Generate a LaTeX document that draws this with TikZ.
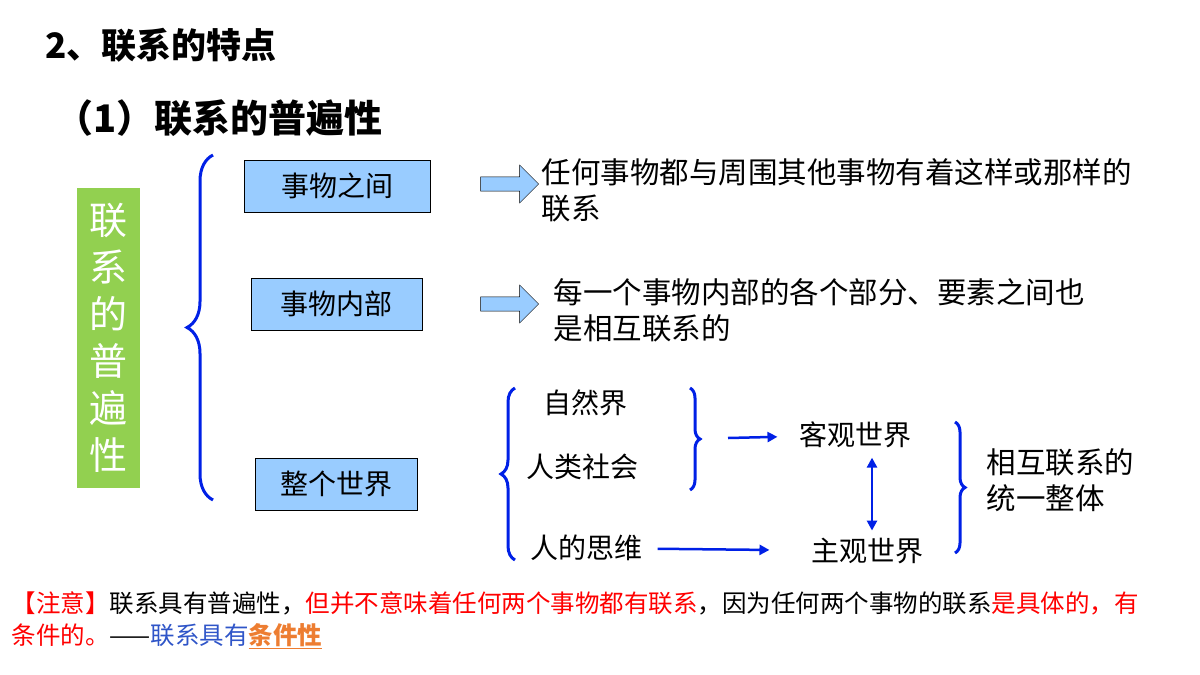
\documentclass[tikz,border=0pt]{standalone}
\usepackage{fontspec}
\setmainfont{Noto Sans CJK SC}
\usetikzlibrary{arrows.meta, positioning, calc, shapes.arrows, decorations.pathreplacing}
\definecolor{boxblue}{RGB}{153,204,255}
\definecolor{leafgreen}{RGB}{146,208,80}
\definecolor{braceblue}{RGB}{0,32,230}
\definecolor{noteorange}{RGB}{237,125,49}
\definecolor{noteblue}{RGB}{47,85,200}
\tikzset{
  topic/.style={draw, fill=boxblue, minimum height=52pt, font=\fontsize{28}{32}\selectfont},
  say/.style={anchor=west, align=left, font=\fontsize{29.5}{36}\selectfont},
  word/.style={font=\fontsize{28}{32}\selectfont},
  bigbrace/.style={decorate, decoration={brace, amplitude=#1}, draw=braceblue, line width=3pt},
  link/.style={-{Triangle[length=10pt,width=10pt]}, draw=braceblue, line width=2.5pt}
}
\begin{document}
\begin{tikzpicture}[x=1pt, y=-1pt]
\useasboundingbox (0,0) rectangle (1200,675);

% Title lines
\node (title) [anchor=west, font=\fontsize{35}{40}\selectfont\bfseries] at (42,45) {2、联系的特点};
\node (sub) [anchor=west, font=\fontsize{38}{44}\selectfont\bfseries] at (52,118) {（1）联系的普遍性};

% Green label
\node (tag) [fill=leafgreen, text=white, minimum width=63pt, minimum height=300pt, align=center,
  font=\fontsize{38}{47}\selectfont] at (108.5,338) {联\\系\\的\\普\\遍\\性};

% Main brace
\draw[bigbrace=26pt] (213,500) -- (213,155);

% Three topics
\node (between) [topic, minimum width=186pt] at (337,186) {事物之间};
\node (inside) [topic, minimum width=171pt] at (336.5,304) {事物内部};
\node (world) [topic, minimum width=162pt] at (336,484) {整个世界};

% Block arrows and statements
\node (arr1) [single arrow, draw, fill=boxblue, minimum height=58pt, minimum width=38pt,
  single arrow head extend=2pt, inner sep=1pt] at (506,184) {};
\node (arr2) [single arrow, draw, fill=boxblue, minimum height=58pt, minimum width=38pt,
  single arrow head extend=2pt, inner sep=1pt] at (506,304) {};
\node (said1) [say] at (538,190) {任何事物都与周围其他事物有着这样或那样的\\联系};
\node (said2) [say] at (550,310) {每一个事物内部的各个部分、要素之间也\\是相互联系的};

% World brace and parts
\draw[bigbrace=14pt] (515,560) -- (515,388);
\node (nature) [word] at (585,403) {自然界};
\node (society) [word] at (582,467) {人类社会};
\node (mind) [word] at (586,548) {人的思维};
\draw[bigbrace=10pt] (690,388) -- (690,490);
\coordinate (tip1) at (728,438);
\node (objective) [word] at (855,435) {客观世界};
\node (subjective) [word] at (867,551) {主观世界};
\draw[link, shorten >=18pt] (tip1) -- (objective);
\draw[link, shorten <=12pt, shorten >=38pt] (mind) -- (subjective);
\draw[{Triangle[length=10pt,width=10pt]}-{Triangle[length=10pt,width=10pt]}, draw=braceblue, line width=2.5pt]
  ($(objective.south)+(17,6)$) -- ($(subjective.north)+(5,-4)$);
\draw[bigbrace=10pt] (955,422) -- (955,553);
\node (whole) [say] at (983,480) {相互联系的\\统一整体};

% Note
\node (note) [anchor=north west, align=left, text width=1180pt, font=\fontsize{24.5}{32}\selectfont] at (8,588)
  {\textcolor{red}{【注意】}联系具有普遍性，\textcolor{red}{但并不意味着任何两个事物都有联系}，因为任何两个事物的联系\textcolor{red}{是具体的，有}\\
   \textcolor{red}{条件的。}——\textcolor{noteblue}{联系具有}\textcolor{noteorange}{\bfseries\underline{条件性}}};
\end{tikzpicture}
\end{document}
